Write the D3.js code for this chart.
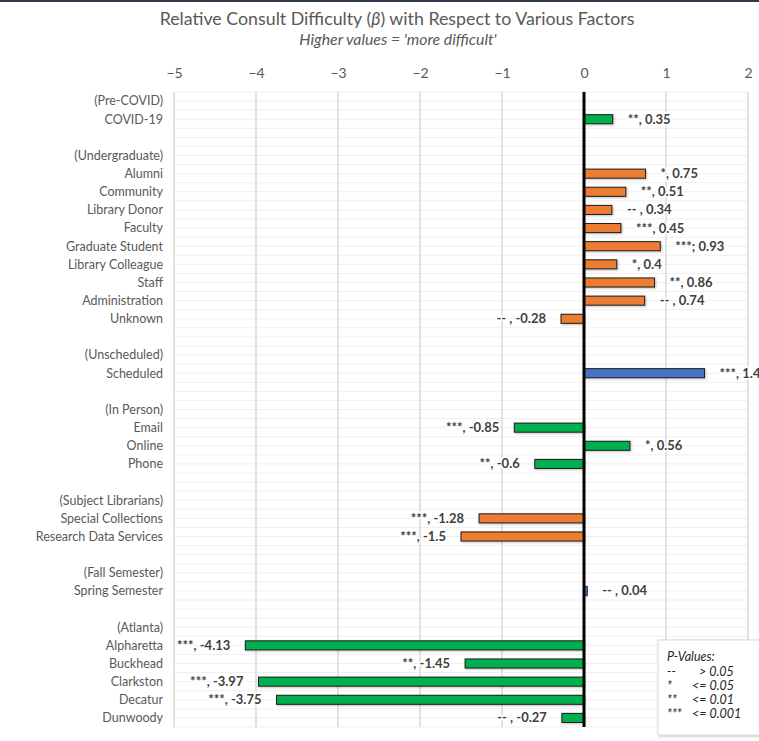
<!DOCTYPE html>
<html>
<head>
<meta charset="utf-8">
<script src="https://cdn.jsdelivr.net/npm/d3@7"></script>
<style>
  body { margin: 0; background: #fff; }
  svg text { font-family: Lato, "Open Sans", sans-serif; }
</style>
</head>
<body>
<div id="chart"></div>
<script>
// rows top to bottom; "" = spacer row, "(...)" = reference level
const categories = [
  "(Pre-COVID)", "COVID-19", "",
  "(Undergraduate)", "Alumni", "Community", "Library Donor", "Faculty",
  "Graduate Student", "Library Colleague", "Staff", "Administration", "Unknown", "",
  "(Unscheduled)", "Scheduled", "",
  "(In Person)", "Email", "Online", "Phone", "",
  "(Subject Librarians)", "Special Collections", "Research Data Services", "",
  "(Fall Semester)", "Spring Semester", "",
  "(Atlanta)", "Alpharetta", "Buckhead", "Clarkston", "Decatur", "Dunwoody"
];
const values = [
  null, 0.35, null,
  null, 0.75, 0.51, 0.34, 0.45, 0.93, 0.4, 0.86, 0.74, -0.28, null,
  null, 1.47, null,
  null, -0.85, 0.56, -0.6, null,
  null, -1.28, -1.5, null,
  null, 0.04, null,
  null, -4.13, -1.45, -3.97, -3.75, -0.27
];
const sigMarks = [
  "", "**, ", "",
  "", "*, ", "**, ", "-- , ", "***, ", "***; ", "*, ", "**, ", "-- , ", "-- , ", "",
  "", "***, ", "",
  "", "***, ", "*, ", "**, ", "",
  "", "***, ", "***, ", "",
  "", "-- , ", "",
  "", "***, ", "**, ", "***, ", "***, ", "-- , "
];
const barGroups = [
  "", "covid", "",
  "", "role", "role", "role", "role", "role", "role", "role", "role", "role", "",
  "", "schedule", "",
  "", "mode", "mode", "mode", "",
  "", "librarian", "librarian", "",
  "", "semester", "",
  "", "campus", "campus", "campus", "campus", "campus"
];
const xTicks = [-5, -4, -3, -2, -1, 0, 1, 2];
const legendMarks = ["--", "*", "**", "***"];
const legendRules = ["> 0.05", "<= 0.05", "<= 0.01", "<= 0.001"];

const width = 759, height = 741;
const margin = { top: 92, right: 11, bottom: 14, left: 174 };

const color = d3.scaleOrdinal()
  .domain(["covid", "role", "schedule", "mode", "librarian", "semester", "campus"])
  .range(["#00B050", "#ED7D31", "#4472C4", "#00B050", "#ED7D31", "#4472C4", "#00B050"]);

const svg = d3.select('#chart').append('svg')
  .attr('width', width)
  .attr('height', height);

const defs = svg.append('defs');
defs.append('filter').attr('id', 'shadow')
  .attr('x', '-20%').attr('y', '-40%').attr('width', '140%').attr('height', '200%')
  .append('feDropShadow')
  .attr('dx', 1).attr('dy', 1).attr('stdDeviation', 1.2)
  .attr('flood-color', '#000').attr('flood-opacity', 0.25);

// frame line at top
svg.append('line')
  .attr('x1', 0).attr('x2', width).attr('y1', 1).attr('y2', 1)
  .attr('stroke', '#2e3a4a').attr('stroke-width', 2);

const x = d3.scaleLinear().domain([-5, 2]).range([margin.left, width - margin.right]);
const y = d3.scaleBand()
  .domain(d3.range(categories.length))
  .range([margin.top, height - margin.bottom])
  .paddingInner(0.5)
  .paddingOuter(0.25);

// title
svg.append('text')
  .attr('x', 397).attr('y', 25)
  .attr('text-anchor', 'middle')
  .attr('font-size', 17.8).attr('fill', '#595959')
  .call(t => {
    t.append('tspan').text('Relative Consult Difficulty (');
    t.append('tspan').attr('font-style', 'italic').text('β');
    t.append('tspan').text(') with Respect to Various Factors');
  });
svg.append('text')
  .attr('x', 398).attr('y', 45)
  .attr('text-anchor', 'middle')
  .attr('font-size', 15.8).attr('font-style', 'italic').attr('fill', '#595959')
  .text("Higher values = 'more difficult'");

// horizontal faint lines every half row
const step = y.step();
const hLines = d3.range(0, categories.length * 2 + 1).map(k => margin.top + k * step / 2);
svg.append('g').selectAll('line').data(hLines).join('line')
  .attr('x1', margin.left).attr('x2', width - margin.right)
  .attr('y1', d => d).attr('y2', d => d)
  .attr('stroke', '#efefef').attr('stroke-width', 1);

// vertical gridlines
svg.append('g').selectAll('line').data(xTicks).join('line')
  .attr('x1', d => x(d)).attr('x2', d => x(d))
  .attr('y1', margin.top).attr('y2', height - margin.bottom)
  .attr('stroke', '#d9d9d9').attr('stroke-width', 1.5);

// top axis labels
const xAxis = svg.append('g')
  .attr('transform', `translate(0,${margin.top})`)
  .call(d3.axisTop(x).tickValues(xTicks).tickSize(0).tickPadding(14).tickFormat(d3.format('d')));
xAxis.select('.domain').remove();
xAxis.selectAll('text')
  .attr('font-size', 14).attr('fill', '#595959')
  .style('font-family', 'Lato, "Open Sans", sans-serif');

// category labels
svg.append('g').selectAll('text').data(categories).join('text')
  .attr('x', 163)
  .attr('y', (d, i) => y(i) + y.bandwidth() / 2)
  .attr('dy', '0.35em')
  .attr('text-anchor', 'end')
  .attr('font-size', 12.5).attr('fill', '#595959')
  .text(d => d);

const rows = values.map((v, i) => ({ i, v, mark: sigMarks[i], group: barGroups[i] }))
  .filter(d => d.v !== null);

// bars
svg.append('g').selectAll('rect').data(rows).join('rect')
  .attr('x', d => x(Math.min(0, d.v)))
  .attr('width', d => Math.abs(x(d.v) - x(0)))
  .attr('y', d => y(d.i))
  .attr('height', y.bandwidth())
  .attr('fill', d => color(d.group))
  .attr('stroke', d => d.group === 'semester' ? '#1f2f5a' : '#1a1a1a')
  .attr('stroke-width', 1)
  .attr('filter', 'url(#shadow)');

// zero line
svg.append('line')
  .attr('x1', x(0)).attr('x2', x(0))
  .attr('y1', margin.top).attr('y2', height - margin.bottom)
  .attr('stroke', '#000').attr('stroke-width', 3);

// data labels
svg.append('g').selectAll('text').data(rows).join('text')
  .attr('x', d => d.v >= 0 ? x(d.v) + 15 : x(d.v) - 15)
  .attr('y', d => y(d.i) + y.bandwidth() / 2)
  .attr('dy', '0.35em')
  .attr('text-anchor', d => d.v >= 0 ? 'start' : 'end')
  .attr('font-size', 13).attr('font-weight', 'bold').attr('fill', '#404040')
  .attr('stroke', '#fff').attr('stroke-width', 3).attr('paint-order', 'stroke')
  .text(d => d.mark + d.v);

// p-value legend
const legend = svg.append('g');
legend.append('rect')
  .attr('x', 658).attr('y', 640).attr('width', 120).attr('height', 95)
  .attr('fill', '#fff').attr('stroke', '#d9d9d9').attr('stroke-width', 1)
  .attr('filter', 'url(#shadow)');
legend.append('text')
  .attr('x', 667).attr('y', 661)
  .attr('font-size', 12.5).attr('font-style', 'italic').attr('fill', '#262626')
  .text('P-Values:');
legend.selectAll('.mk').data(legendMarks).join('text')
  .attr('class', 'mk')
  .attr('x', 667).attr('y', (d, i) => 676 + i * 14)
  .attr('font-size', 12.5).attr('font-style', 'italic').attr('fill', '#262626')
  .text(d => d);
legend.selectAll('.rl').data(legendRules).join('text')
  .attr('class', 'rl')
  .attr('x', (d, i) => i === 0 ? 699 : 692).attr('y', (d, i) => 676 + i * 14)
  .attr('font-size', 12.5).attr('font-style', 'italic').attr('fill', '#262626')
  .text(d => d);
</script>
</body>
</html>
